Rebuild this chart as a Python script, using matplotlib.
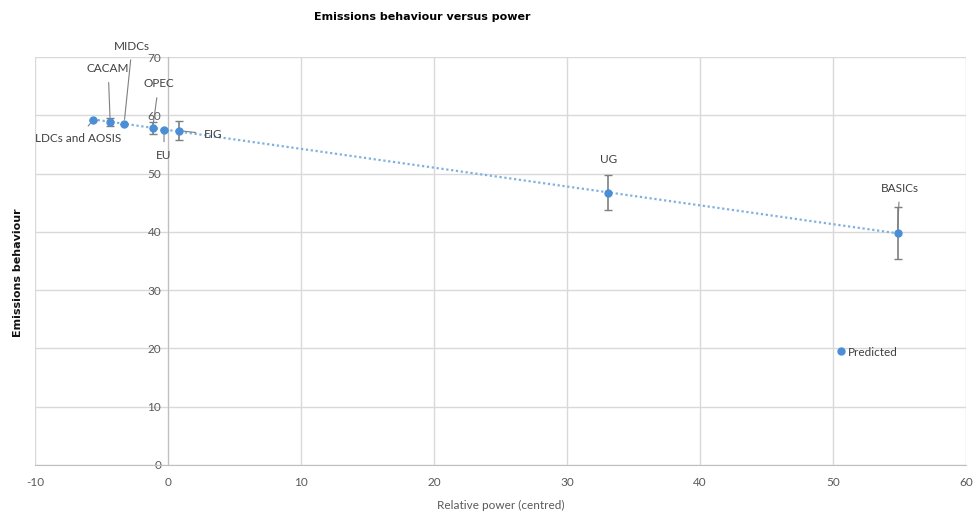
import numpy as np
import matplotlib.pyplot as plt
from matplotlib.lines import Line2D

plt.rcParams["font.family"] = ["Lato", "DejaVu Sans"]
plt.rcParams["axes.unicode_minus"] = False

groups = ["LDCs and AOSIS", "CACAM", "MIDCs", "OPEC", "EU", "EIG", "UG", "BASICs"]
power = [-5.65, -4.35, -3.3, -1.15, -0.3, 0.8, 33.1, 54.85]
emissions = [59.2, 58.9, 58.6, 57.9, 57.5, 57.4, 46.7, 39.8]
err = [0.0, 0.7, 0.0, 1.05, 0.0, 1.6, 3.0, 4.4]

# label text positions (data units) and leader line yes/no
label_pos = [(-6.75, 56.0), (-4.5, 68.0), (-2.7, 71.9), (-0.7, 65.4),
             (-0.3, 53.1), (3.4, 56.7), (33.1, 52.4), (55.0, 47.5)]
leaders = [True, True, True, True, True, True, False, True]

blue = "#4a8fd6"
grey_txt = "#404040"

fig = plt.figure(figsize=(9.78, 5.15), dpi=100)
ax = fig.add_axes([0.0358, 0.0971, 0.952, 0.792])

ax.set_xlim(-10, 60)
ax.set_ylim(0, 70)
ax.set_xticks(range(-10, 61, 10))
ax.set_yticks(range(0, 71, 10))
ax.grid(True, color="#d9d9d9", linewidth=1)
ax.set_axisbelow(True)

for s in ["top", "right"]:
    ax.spines[s].set_visible(False)
ax.spines["left"].set_position(("data", 0))
ax.spines["left"].set_color("#bfbfbf")
ax.spines["bottom"].set_color("#bfbfbf")
ax.tick_params(colors="#bfbfbf", labelcolor="#595959", labelsize=8.5, length=0)
ax.tick_params(axis="x", pad=9)
ax.tick_params(axis="y", pad=5)

# trend line
coef = np.polyfit(power, emissions, 1)
xs = np.array([min(power), max(power)])
ax.plot(xs, np.polyval(coef, xs), linestyle=(0, (1, 1.2)), color="#7fb0e0",
        linewidth=1.6, zorder=2)

ax.errorbar(power, emissions, yerr=err, fmt="o", color=blue, markersize=5,
            ecolor="#7f7f7f", elinewidth=1.2, capsize=3, capthick=1, zorder=3)

for g, x, y, (tx, ty), ld in zip(groups, power, emissions, label_pos, leaders):
    if ld:
        ax.annotate(g, xy=(x, y), xytext=(tx, ty), ha="center", va="center",
                    fontsize=8.5, color=grey_txt,
                    arrowprops=dict(arrowstyle="-", color="#7f7f7f", lw=0.8,
                                    shrinkA=4, shrinkB=3))
    else:
        ax.text(tx, ty, g, ha="center", va="center", fontsize=8.5, color=grey_txt)

handle = Line2D([], [], marker="o", linestyle="none", color=blue, markersize=5)
leg = ax.legend([handle], ["Predicted"], loc="center left",
                bbox_to_anchor=(0.855, 0.277), frameon=False, fontsize=8.5,
                handletextpad=0.2, handlelength=0.8, borderaxespad=0)
for t in leg.get_texts():
    t.set_color(grey_txt)

fig.text(0.432, 0.967, "Emissions behaviour versus power", ha="center",
         va="center", fontsize=8, fontweight="bold", color="black",
         family="DejaVu Sans")
fig.text(0.0184, 0.47, "Emissions behaviour", rotation=90, ha="center",
         va="center", fontsize=8, fontweight="bold", color="#111111",
         family="DejaVu Sans")
fig.text(0.512, 0.018, "Relative power (centred)", ha="center", va="center",
         fontsize=8.5, color="#595959")

fig.savefig("out.png", dpi=100)
